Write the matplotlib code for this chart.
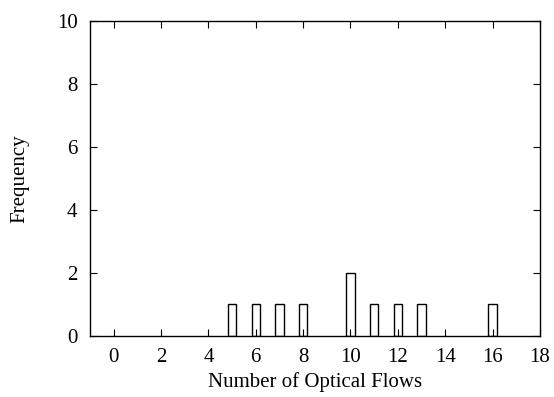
import matplotlib
matplotlib.use("Agg")
import matplotlib.pyplot as plt

flows = [5, 6, 7, 8, 10, 11, 12, 13, 16]
freq = [1, 1, 1, 1, 2, 1, 1, 1, 1]
xticks = [0, 2, 4, 6, 8, 10, 12, 14, 16, 18]
yticks = [0, 2, 4, 6, 8, 10]

plt.rcParams['font.family'] = ['Liberation Serif', 'DejaVu Serif']
fig = plt.figure(figsize=(5.54, 3.97), dpi=100)
ax = fig.add_axes([0.1625, 0.1537, 0.812, 0.793])
ax.bar(flows, freq, width=0.35, facecolor='white', edgecolor='black', linewidth=1.0)
ax.set_xlim(-1, 18)
ax.set_ylim(0, 10)
ax.set_xticks(xticks)
ax.set_yticks(yticks)
ax.tick_params(direction='in', top=True, right=True, labelsize=15, length=5, pad=9)
ax.set_xlabel('Number of Optical Flows', fontsize=15, labelpad=3)
ax.set_ylabel('Frequency', fontsize=15, labelpad=20)
for s in ax.spines.values():
    s.set_linewidth(1.0)
fig.savefig('out.png', dpi=100)
